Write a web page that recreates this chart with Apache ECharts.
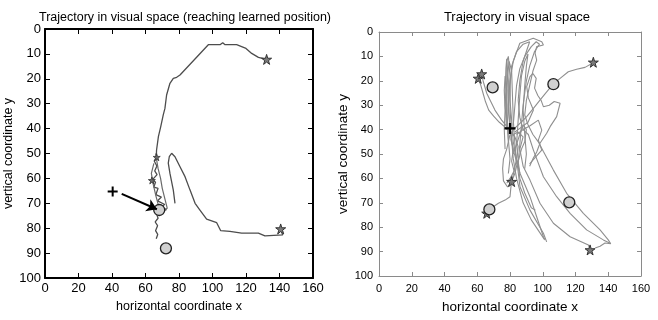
<!DOCTYPE html>
<html>
<head>
<meta charset="utf-8">
<script src="https://cdn.jsdelivr.net/npm/echarts@6/dist/echarts.min.js"></script>
<style>html,body{margin:0;padding:0;background:#fff}#chart{width:658px;height:320px}</style>
</head>
<body>
<div id="chart"></div>
<script>
// ---------- data ----------
const xTicks = [0, 20, 40, 60, 80, 100, 120, 140, 160];
const yTicks = [0, 10, 20, 30, 40, 50, 60, 70, 80, 90, 100];
const leftTitle = 'Trajectory in visual space (reaching learned position)';
const rightTitle = 'Trajectory in visual space';
const xName = 'horizontal coordinate x';
const yName = 'vertical coordinate y';

// left panel trajectories
const leftTrajA = [[132.3,12.2],[127.4,11.4],[123.4,9.8],[120,7.8],[114.4,6.3],[107.5,6.3],[106.1,5.5],[104.5,6.3],[97.5,6.3],[80.6,18.5],[78.6,19.4],[76.6,19.8],[74.6,21.8],[72.6,26.5],[71.6,31.9],[70.6,34.5],[69.1,39.2],[67.7,43.2],[66.6,48.6],[66.4,52],[65.2,53],[66.8,55],[65.5,57],[66.9,58.5],[64.2,60.5],[66,61.5],[65,63.5],[67.5,64],[66.2,66.5],[69.5,67.5],[67.2,69],[71.5,70.5],[69,71.5],[72.5,72.5],[68.5,73.5],[66.5,74],[67.5,76],[65.8,77.5],[67.2,79],[66,81],[67.3,82.5],[66.4,84.2]];
const leftTrajC = [[66,50],[67.5,56],[69,60],[70,64],[71.5,68],[73,72],[70.5,72.8],[68,71.5],[66.2,67],[64.5,62],[63.5,58],[65,54]];
const leftTrajB = [[140.7,80.3],[141.9,82.7],[131.3,83.1],[127.4,82],[117.4,82],[110.4,81.3],[104.9,81],[102.5,77.8],[96.5,76.4],[92.5,72.7],[89.6,70],[86.6,64.7],[83.6,59.3],[80.6,55.3],[77.6,51.3],[75.6,49.9],[74.2,51.3],[73.6,53.9],[74.6,58],[76.6,64.7],[77.6,70]];
const leftStars = [[132.3,12.2],[140.7,80.3]];
const leftSmallStars = [[66.7,51.5],[63.8,60.8]];
const leftCircles = [[68.2,72.7],[72.2,88.1]];
const leftPlus = [[40.4,65.3]];
const leftArrow = [[45.8,66.2],[66.8,72.4]];

// right panel trajectories
const rT1 = [[130.9,12.6],[125.8,14.5],[120.7,15.3],[115.6,16.3],[110.6,19],[106.5,21.3],[102.4,24.5],[98.3,27.9],[94.3,31.3],[90.2,34.7],[86.1,37.4],[82,40],[80.5,44],[82,48],[81,53],[82.5,57],[81,61.3]];
const rT2 = [[81,61.3],[80.5,64],[80,67.5],[77,68.9],[72.9,70.2],[69.8,71.6],[67.4,73],[65.8,74.3]];
const rT3 = [[60.6,19],[62,21.5],[63.5,25],[65,28.5],[67,32],[70,34.5],[73.5,37],[77,39],[80,41],[83,43],[85,47],[84,52],[82.5,57],[80,60],[78,62]];
const rT4 = [[62.7,17.2],[63.7,20.4],[65.8,25.1],[67.8,27.9],[70.8,32],[74.9,36.1],[79,39.5],[82,42],[85,41],[88,43],[86,48],[88,55],[92.2,60.7],[98.3,70.2],[106.5,78.4],[116.7,83.9],[127.9,87.3],[128.9,89.3]];
const rT5 = [[80,40],[79,30],[80,20],[82,12],[86,4.6],[94.2,2.6],[99.4,4],[100.4,5.3],[96.3,6],[95.3,8.7],[96.3,11.5],[94,16],[92,22],[90,28],[89,34],[91,38],[94,42],[97.3,45],[100.4,49],[106.5,56.6],[114.6,66.1],[124.8,74.3],[135,81.1],[140,85.2],[141.5,86.8],[138,86.5],[135,87.8],[132,88.5]];
const rT6 = [[81,40],[80,32],[80,22],[81,14],[84,8],[88,5],[92,4],[90,8],[88,12],[86,20],[85,28],[86,35],[88,40],[91.2,42],[94.3,48.4],[100.4,59.3],[108.5,67.5],[116.7,74.3],[126.8,81.1],[137,85.2],[141.1,86.6]];
const rT7 = [[78,40],[77,30],[78,20],[78,12],[79,10],[80,18],[80,28],[81,36],[82,45],[84.1,52.5],[86.1,63.4],[92.2,73],[100.4,82.5],[102.4,86]];
const rT8 = [[79,42],[78,35],[77,25],[77.5,15],[78,11],[79,20],[79,32],[81,44],[82,52],[84,60],[88,70],[93,77],[98,82],[101,85]];
const rT9 = [[82,38],[83,30],[84,22],[86,15],[89,10],[93,6],[96,4],[98,5],[95,8],[92,14],[90,20],[88,30],[87,38],[86,46],[85,54],[86,60],[89,66],[93,72],[95.5,73]];
const rT10 = [[83,41],[87,39],[91,37],[94.3,32],[91.2,27],[90.2,22.4],[92.2,18.3],[94,17],[96,19],[95,23],[97,26],[99,28],[100.4,30.6],[104,30],[107,28.5],[110.6,29.2],[108.5,34.7],[104.5,38.8],[102.4,41.5],[98.3,45.6],[96.3,49.2],[94,52],[92,55]];
const rT11 = [[84,42],[88,40],[92,38.5],[97.3,36.1],[99.4,40.2],[97.3,44.3],[99.4,48.4],[96,51],[92,54]];
const rT12 = [[80,42],[78,48],[76,52],[75.5,56],[76,61],[78.5,63.5],[80.5,62],[83,58],[85,52],[84,46]];
const rT13 = [[80,40.2],[82,48.4],[86.1,57.9],[92.2,67.5],[96.3,75.7],[100.4,83.9],[101.4,85.2]];
const rT14 = [[79,45],[78.5,38],[78,28],[78.5,18],[79.5,12],[81,16],[81.5,26],[82,36],[83,46],[84,54]];
const rT15 = [[84,46],[85,36],[86,26],[87,18],[89,12],[91,9],[90,14],[89,22],[88,32],[89,42],[90,50],[89,56]];
const rT16 = [[77,48],[76.5,40],[77,32],[76.5,24],[77,18],[78,24],[78,34],[79,44],[80,52],[79,58]];
const rT17 = [[82,50],[84,46],[86,42],[88,38],[90,40],[89,45],[87,48],[85,53],[86,58]];
const rightTrajs = [rT1, rT2, rT3, rT4, rT5, rT6, rT7, rT8, rT9, rT10, rT11, rT12, rT13, rT14, rT15, rT16, rT17];
const rightStars = [[130.9,12.4],[60.6,19],[62.7,17.2],[81,61.3],[65.8,74.3],[128.9,89.3]];
const rightCircles = [[69.4,22.7],[106.5,21.4],[116.2,69.8],[67.4,72.7]];
const rightPlus = [[80,39.5]];

// ---------- chart ----------
const FONT = "'Liberation Sans', Arial, sans-serif";
const STAR = 'path://M50,0 L61,35 L98,35 L68,57 L79,91 L50,70 L21,91 L32,57 L2,35 L39,35 Z';
const PLUS = 'path://M4,0h2v4h4v2h-4v4h-2v-4h-4v-2h4z';

function xAx(gi, pos, cfg) {
  return {
    gridIndex: gi, type: 'value', position: pos, min: 0, max: 160, interval: 20,
    axisLine: { show: true, onZero: false, lineStyle: { color: cfg.lc, width: cfg.lw } },
    axisTick: { show: true, inside: true, length: cfg.tl, lineStyle: { color: cfg.lc, width: 1 } },
    axisLabel: { show: pos === 'bottom', color: '#000', fontFamily: FONT, fontSize: cfg.fs, margin: cfg.xm },
    splitLine: { show: false },
    name: pos === 'bottom' ? xName : '', nameLocation: 'middle', nameGap: cfg.xng,
    nameTextStyle: { color: '#000', fontFamily: FONT, fontSize: cfg.nfs }
  };
}
function yAx(gi, pos, cfg) {
  return {
    gridIndex: gi, type: 'value', position: pos, min: 0, max: 100, interval: 10, inverse: true,
    axisLine: { show: true, onZero: false, lineStyle: { color: cfg.lc, width: cfg.lw } },
    axisTick: { show: true, inside: true, length: cfg.tl, lineStyle: { color: cfg.lc, width: 1 } },
    axisLabel: { show: pos === 'left', color: '#000', fontFamily: FONT, fontSize: cfg.fs, margin: cfg.ym },
    splitLine: { show: false },
    name: pos === 'left' ? yName : '', nameLocation: 'middle', nameGap: cfg.yng, nameRotate: 90,
    nameTextStyle: { color: '#000', fontFamily: FONT, fontSize: cfg.nfs }
  };
}
const cfgL = { lc: '#000', lw: 2, tl: 5, fs: 13, nfs: 12.5, xm: 4, ym: 4, xng: 17, yng: 28 };
const cfgR = { lc: '#8a8a8a', lw: 1, tl: 4, fs: 11, nfs: 13.5, xm: 7, ym: 6, xng: 24, yng: 27 };

function lineS(data, xi, color, width) {
  return { type: 'line', xAxisIndex: xi, yAxisIndex: xi, data: data, showSymbol: false, symbol: 'none',
    lineStyle: { color: color, width: width }, silent: true, z: 2 };
}
function scat(data, xi, symbol, size, fill, border, bw, z) {
  return { type: 'scatter', xAxisIndex: xi, yAxisIndex: xi, data: data, symbol: symbol, symbolSize: size,
    itemStyle: { color: fill, borderColor: border, borderWidth: bw, opacity: 1 }, silent: true, z: z || 5 };
}

const series = [
  lineS(leftTrajA, 0, '#4d4d4d', 1.3),
  lineS(leftTrajC, 0, '#6a6a6a', 1.2),
  lineS(leftTrajB, 0, '#4d4d4d', 1.3),
  scat(leftStars, 0, STAR, 10, '#7a7a7a', '#333', 1),
  scat(leftSmallStars, 0, STAR, 7, '#6a6a6a', '#333', 0.8),
  scat(leftCircles, 0, 'circle', 11, '#d0d0d0', '#222', 1.3),
  scat(leftPlus, 0, PLUS, 10, '#000', '#000', 0),
  {
    type: 'line', xAxisIndex: 0, yAxisIndex: 0, data: [], silent: true, z: 8, zlevel: 0,
    markLine: {
      silent: true, symbol: ['none', 'arrow'], symbolSize: 10, animation: false, z: 8,
      label: { show: false },
      lineStyle: { color: '#000', width: 2, type: 'solid' },
      itemStyle: { color: '#000' },
      data: [[{ coord: leftArrow[0] }, { coord: leftArrow[1] }]]
    }
  }
];
rightTrajs.forEach(t => series.push(lineS(t, 2, '#8f8f8f', 1.1)));
series.push(scat(rightStars, 2, STAR, 10, '#7a7a7a', '#333', 1));
series.push(scat(rightCircles, 2, 'circle', 11, '#d0d0d0', '#222', 1.3));
series.push(scat(rightPlus, 2, PLUS, 11, '#000', '#000', 0));

const chart = echarts.init(document.getElementById('chart'), null, { renderer: 'canvas' });
chart.setOption({
  animation: false,
  backgroundColor: '#fff',
  title: [
    { text: leftTitle, left: 180, top: 6, textAlign: 'center',
      textStyle: { color: '#000', fontFamily: FONT, fontSize: 12.5, fontWeight: 'normal' } },
    { text: rightTitle, left: 512, top: 6, textAlign: 'center',
      textStyle: { color: '#000', fontFamily: FONT, fontSize: 13, fontWeight: 'normal' } }
  ],
  grid: [
    { left: 45, top: 29, width: 268, height: 249, containLabel: false, outerBoundsMode: 'none' },
    { left: 379, top: 32, width: 262, height: 244, containLabel: false, outerBoundsMode: 'none' }
  ],
  xAxis: [xAx(0, 'bottom', cfgL), xAx(0, 'top', cfgL), xAx(1, 'bottom', cfgR), xAx(1, 'top', cfgR)],
  yAxis: [yAx(0, 'left', cfgL), yAx(0, 'right', cfgL), yAx(1, 'left', cfgR), yAx(1, 'right', cfgR)],
  series: series
});
</script>
</body>
</html>
